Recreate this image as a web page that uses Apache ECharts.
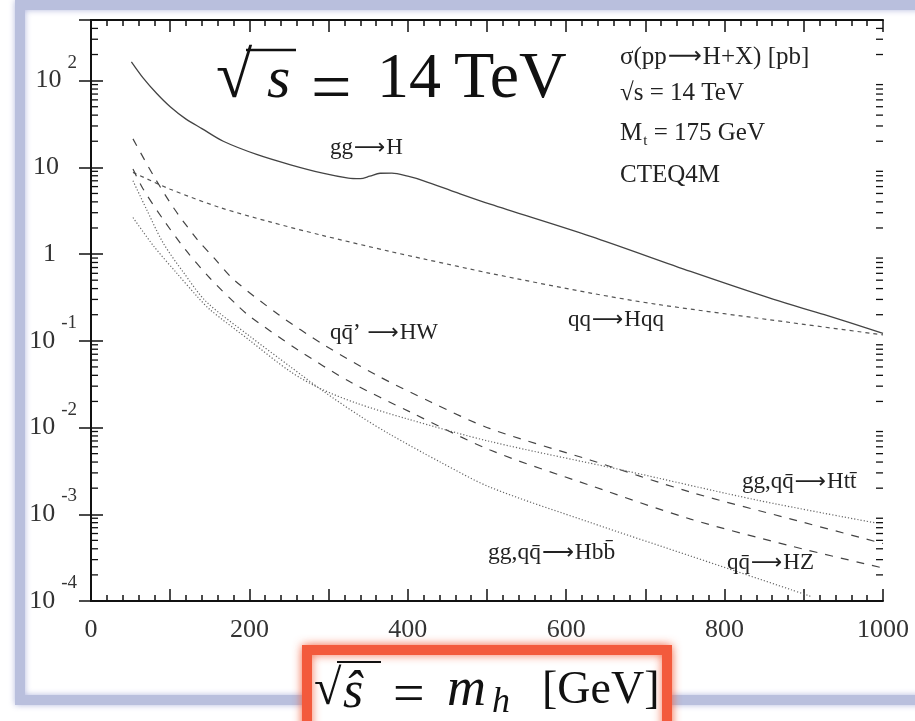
<!DOCTYPE html>
<html>
<head>
<meta charset="utf-8">
<script src="https://cdn.jsdelivr.net/npm/echarts@6/dist/echarts.min.js"></script>
<style>
  html, body { margin: 0; padding: 0; background: #fff; }
  #main { width: 915px; height: 721px; }
</style>
</head>
<body>
<div id="main"></div>
<script>
// cross sections sigma(pp -> H+X) [pb] vs m_h [GeV]
const ggH = [[51,165],[66,107],[83,71],[100,50],[120,36],[140,28],[167,20],[210,14],[252,10.7],[294,8.5],
  [325,7.5],[340,7.4],[352,7.9],[365,8.55],[380,8.6],[400,7.9],[420,7.0],[462,5.1],[504,3.76],[631,1.6],
  [757,0.63],[862,0.3],[926,0.2],[1000,0.122]];
const qqHqq = [[53,8.75],[100,5.6],[163,3.44],[226,2.35],[290,1.66],[378,1.07],[420,0.88],[504,0.6],[631,0.355],
  [715,0.263],[884,0.162],[1000,0.117]];
const qqHW = [[53,21.3],[79,8.0],[104,3.44],[134,1.48],[155,0.91],[180,0.51],[237,0.2],[294,0.09],[361,0.04],
  [429,0.0197],[504,0.0097],[631,0.0042],[757,0.0018],[884,0.00088],[1000,0.00046]];
const qqHZ = [[53,9.55],[66,5.6],[91,2.52],[119,1.13],[150,0.53],[184,0.26],[201,0.19],[260,0.08],[327,0.0337],
  [403,0.0151],[504,0.0055],[631,0.00214],[757,0.00088],[884,0.00043],[1000,0.00024]];
const Hbb = [[53,7.0],[70,3.3],[91,1.35],[117,0.61],[146,0.28],[201,0.112],[252,0.05],[294,0.026],[340,0.0135],
  [378,0.0083],[441,0.004],[504,0.00205],[631,0.0008],[757,0.00033],[884,0.000135],[910,0.000112]];
const Htt = [[53,2.64],[79,1.24],[108,0.607],[134,0.325],[150,0.23],[201,0.1],[252,0.044],[290,0.028],
  [336,0.019],[399,0.0126],[504,0.0069],[673,0.0032],[842,0.00145],[989,0.0008]];

const xTickLabels = ['0','200','400','600','800','1000'];
const minorMantissas = [2,3,4,5,6,7,8,9];
const decades = [1e-4,1e-3,1e-2,1e-1,1,10,100];
const infoLines = ['σ(pp→H+X) [pb]', '√s = 14 TeV', 'M_t = 175 GeV', 'CTEQ4M'];

const serif = 'Liberation Serif';

const minorTicks = [];
decades.forEach(d => minorMantissas.forEach(m => {
  if (m * d < 500) minorTicks.push([0, m * d]);
}));

const chart = echarts.init(document.getElementById('main'));

function curve(name, data, dash, color, width) {
  return {
    type: 'line', name: name, data: data, showSymbol: false, silent: true, smooth: 0.3,
    lineStyle: { color: color, width: width, type: dash }
  };
}

function supLabel(v) {
  const e = Math.round(Math.log10(v));
  if (Math.abs(Math.log10(v) - e) > 1e-6) return '';
  if (e === 0) return '{p1|1}';
  if (e === 1) return '{p|10}';
  return '{b|10}{s|' + e + '}';
}

const tickStyle = { color: '#111', width: 1.5 };
const lineStyle = { color: '#111', width: 2 };

const yLabelRich = {
  b: { fontFamily: serif, fontSize: 26, color: '#333', verticalAlign: 'middle' },
  p: { fontFamily: serif, fontSize: 26, color: '#333', verticalAlign: 'middle', padding: [0, 18, 0, 0] },
  p1: { fontFamily: serif, fontSize: 26, color: '#333', verticalAlign: 'middle', padding: [0, 21, 0, 0] },
  s: { fontFamily: serif, fontSize: 19, color: '#333', verticalAlign: 'middle', padding: [0, 0, 36, 6] }
};

// rich text with a long arrow and _x subscripts
function richLabel(str, size) {
  let out = '';
  str.split('→').forEach((part, i) => {
    if (i > 0) out += '{ar|⟶}';
    part.split(/_(\w)/).forEach((seg, j) => {
      if (!seg) return;
      out += (j % 2 ? '{sub|' : '{t|') + seg + '}';
    });
  });
  return {
    text: out, align: 'left', verticalAlign: 'middle',
    rich: {
      t: { fontFamily: serif, fontSize: size, fill: '#222', verticalAlign: 'middle' },
      ar: { fontFamily: 'DejaVu Sans', fontSize: size * 0.95, fill: '#222', verticalAlign: 'middle', padding: [0, 1, 0, 1] },
      sub: { fontFamily: serif, fontSize: size * 0.6, fill: '#222', verticalAlign: 'middle', padding: [size * 0.65, 0, 0, 1] }
    }
  };
}

function text(x, y, str, size) {
  return { type: 'text', x: x, y: y, z: 20, style: richLabel(str, size) };
}

function mathText(x, y, str, size, italic, z) {
  return {
    type: 'text', x: x, y: y, z: z || 20,
    style: { text: str, fontFamily: serif, fontSize: size, fontStyle: italic ? 'italic' : 'normal',
      fill: '#111', align: 'left', verticalAlign: 'middle' }
  };
}

chart.setOption({
  animation: false,
  backgroundColor: '#fff',
  grid: { left: 91, right: 32, top: 20, bottom: 120 },
  xAxis: [{
    type: 'value', min: 0, max: 1000, interval: 100, position: 'bottom',
    axisLine: { lineStyle: lineStyle },
    axisTick: { inside: true, length: 12, lineStyle: tickStyle },
    minorTick: { show: true, splitNumber: 5, length: 6, lineStyle: tickStyle },
    splitLine: { show: false },
    axisLabel: {
      margin: 16, fontFamily: serif, fontSize: 26, color: '#333',
      formatter: v => xTickLabels.indexOf(String(v)) >= 0 ? String(v) : ''
    }
  }, {
    type: 'value', min: 0, max: 1000, interval: 100, position: 'top',
    axisLine: { lineStyle: lineStyle },
    axisTick: { inside: true, length: 12, lineStyle: tickStyle },
    minorTick: { show: true, splitNumber: 5, length: 6, lineStyle: tickStyle },
    splitLine: { show: false }, axisLabel: { show: false }
  }],
  yAxis: [{
    type: 'log', logBase: 10, min: 1e-4, max: 500, splitNumber: 7, position: 'left',
    axisLine: { lineStyle: lineStyle },
    axisTick: { inside: true, length: 12, lineStyle: tickStyle },
    splitLine: { show: false },
    axisLabel: { margin: 14, formatter: supLabel, rich: yLabelRich }
  }, {
    type: 'log', logBase: 10, min: 1e-4, max: 500, splitNumber: 7, position: 'right',
    axisLine: { lineStyle: lineStyle },
    axisTick: { inside: true, length: 12, lineStyle: tickStyle },
    splitLine: { show: false }, axisLabel: { show: false }
  }],
  series: [
    curve('gg→H', ggH, 'solid', '#444', 1.3),
    curve('qq→Hqq', qqHqq, [4, 4], '#555', 1.2),
    curve('qq̄’→HW', qqHW, [8, 8], '#444', 1.2),
    curve('qq̄→HZ', qqHZ, [8, 8], '#444', 1.2),
    curve('gg,qq̄→Hbb̄', Hbb, [1.2, 2], '#666', 1.2),
    curve('gg,qq̄→Htt̄', Htt, [1.2, 2], '#666', 1.2),
    {
      // log-spaced minor ticks on the left and right frame
      type: 'custom', silent: true, data: minorTicks,
      renderItem: function (params, api) {
        const l = api.coord([0, api.value(1)]);
        const r = api.coord([1000, api.value(1)]);
        const st = { stroke: '#111', lineWidth: 1.3 };
        return {
          type: 'group', children: [
            { type: 'line', shape: { x1: l[0], y1: l[1], x2: l[0] + 7, y2: l[1] }, style: st },
            { type: 'line', shape: { x1: r[0] - 7, y1: r[1], x2: r[0], y2: r[1] }, style: st }
          ]
        };
      }
    }
  ],
  graphic: [
    // lavender slide frame
    { type: 'rect', z: -5, shape: { x: 20, y: 5, width: 930, height: 695 },
      style: { fill: 'none', stroke: '#b9bfdd', lineWidth: 10, shadowBlur: 6, shadowColor: 'rgba(160,168,215,0.8)' } },
    // big title, pieces placed like the TeX original
    mathText(216, 80, '√', 66, false),
    { type: 'line', z: 20, shape: { x1: 246, y1: 50, x2: 296, y2: 50 }, style: { stroke: '#111', lineWidth: 2.5 } },
    mathText(267, 81, 's', 60, true),
    mathText(311, 92, '=', 72, false),
    mathText(377, 80, '14', 64, false),
    mathText(454, 80, 'TeV', 66, false),
    // info block
    text(620, 57, infoLines[0], 25),
    text(620, 93, infoLines[1], 25),
    text(620, 133, infoLines[2], 25),
    text(620, 175, infoLines[3], 25),
    // curve labels
    text(330, 148, 'gg→H', 23),
    text(568, 320, 'qq→Hqq', 23),
    text(330, 333, 'qq̄’ →HW', 23),
    text(742, 482, 'gg,qq̄→Htt̄', 23),
    text(488, 553, 'gg,qq̄→Hbb̄', 23.5),
    text(727, 563, 'qq̄→HZ', 23),
    // x axis title box
    { type: 'rect', z: 30, shape: { x: 307, y: 650, width: 360, height: 100 },
      style: { fill: '#fff', stroke: '#f35a3c', lineWidth: 10, shadowBlur: 10, shadowColor: 'rgba(245,95,60,0.85)' } },
    mathText(314, 691, '√', 50, false, 31),
    { type: 'line', z: 32, shape: { x1: 337, y1: 662, x2: 381, y2: 662 }, style: { stroke: '#111', lineWidth: 2 } },
    mathText(343, 693, 'ŝ', 52, true, 31),
    mathText(393, 697, '=', 56, false, 31),
    mathText(447, 691, 'm', 54, true, 31),
    mathText(492, 703, 'h', 36, true, 31),
    mathText(542, 691, '[GeV]', 46, false, 31)
  ]
});
</script>
</body>
</html>
